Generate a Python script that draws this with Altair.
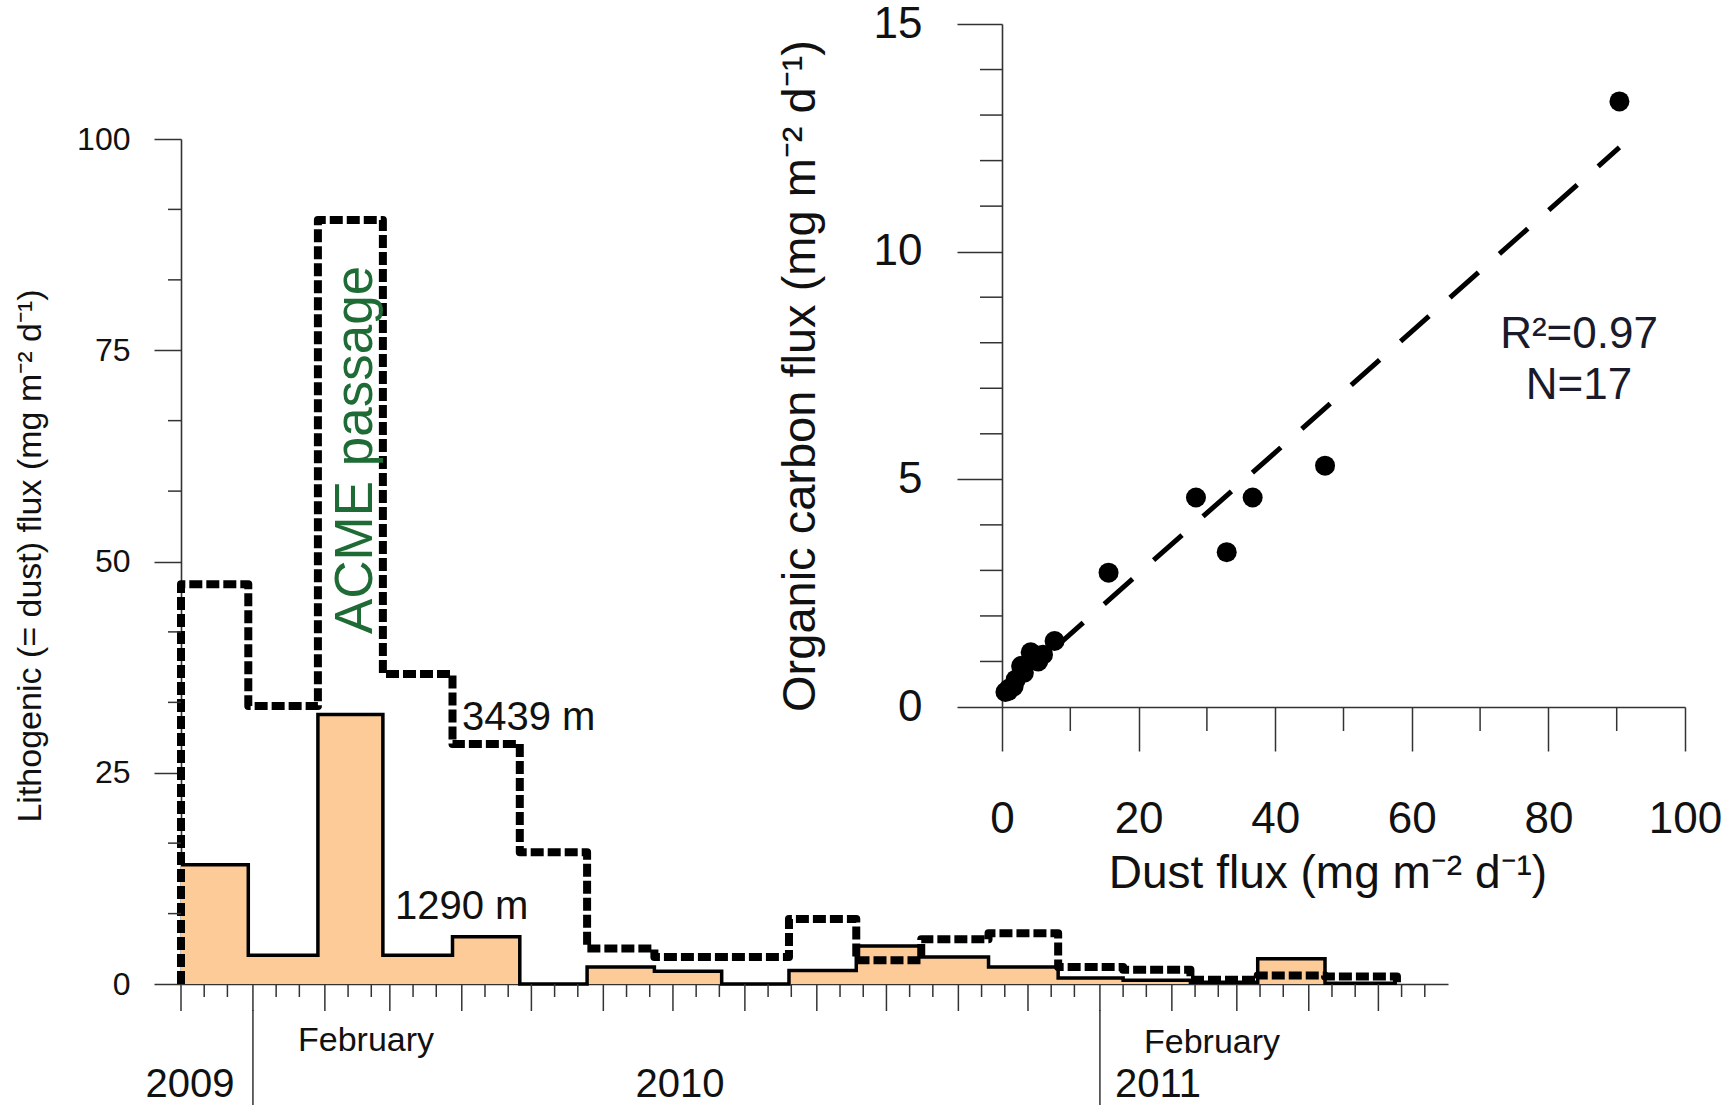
import altair as alt
import pandas as pd

# ---------------- data ----------------
# sediment-trap sampling periods (start dates + final end date)
period_edges = ["2009-12-01", "2009-12-30", "2010-01-29", "2010-02-26", "2010-03-28",
                "2010-04-26", "2010-05-25", "2010-06-23", "2010-07-22", "2010-08-20",
                "2010-09-18", "2010-10-16", "2010-11-14", "2010-12-14", "2011-01-11",
                "2011-02-09", "2011-03-10", "2011-04-08", "2011-05-09"]
# lithogenic (= dust) flux, mg m-2 d-1
flux_1290m = [14.1, 3.4, 31.9, 3.4, 5.6, 0.0, 2.0, 1.5, 0.0, 1.6, 4.5, 3.2, 2.0, 0.7, 0.45, 0.2, 3.0, 0.1]
flux_3439m = [47.3, 32.9, 90.4, 36.7, 28.4, 15.6, 4.2, 3.2, 3.2, 7.7, 2.8, 5.3, 6.0, 2.0, 1.7, 0.5, 1.0, 0.9]

# inset: dust flux vs organic carbon flux (3439 m)
dust_flux = [90.4, 47.3, 36.7, 32.9, 28.4, 15.6, 7.7, 6.0, 5.3, 4.2, 3.2, 2.8, 2.0, 1.7, 1.0, 0.9, 0.5]
oc_flux = [13.3, 5.3, 4.6, 3.4, 4.6, 2.95, 1.45, 1.15, 1.0, 1.2, 0.75, 0.9, 0.6, 0.45, 0.4, 0.35, 0.33]

# time axis ticks
month_ticks = ["2009-12-01", "2010-01-01", "2010-02-01", "2010-03-01", "2010-04-01", "2010-05-01",
               "2010-06-01", "2010-07-01", "2010-08-01", "2010-09-01", "2010-10-01", "2010-11-01",
               "2010-12-01", "2011-01-01", "2011-02-01", "2011-03-01", "2011-04-01", "2011-05-01"]
minor_ticks = [m[:-2] + d for m in month_ticks for d in ("11", "21")]
year_breaks = ["2010-01-01", "2011-01-01"]
axis_start, axis_end = "2009-12-01", "2011-05-31"

left_major_y = [0, 25, 50, 75, 100]
left_minor_y = [8.33, 16.67, 33.33, 41.67, 58.33, 66.67, 83.33, 91.67]
right_major_y = [0, 5, 10, 15]
right_minor_y = [1, 2, 3, 4, 6, 7, 8, 9, 11, 12, 13, 14]
right_major_x = [0, 20, 40, 60, 80, 100]
right_minor_x = [10, 30, 50, 70, 90]

year_labels = ["2009", "2010", "2011"]
month_labels = ["February", "February"]
depth_labels = ["3439 m", "1290 m"]
event_label = "ACME passage"
left_title = "Lithogenic (= dust) flux (mg m\u207b\u00b2 d\u207b\u00b9)"
inset_x_title = "Dust flux (mg m\u207b\u00b2 d\u207b\u00b9)"
inset_y_title = "Organic carbon flux (mg m\u207b\u00b2 d\u207b\u00b9)"
stats_labels = ["R\u00b2=0.97", "N=17"]

# ---------------- helpers ----------------
origin = pd.Timestamp(axis_start)


def day(s):
    return (pd.Timestamp(s) - origin).days


W, H = 1727, 1105
FONT = "Liberation Sans"
AX = "#333333"

edges = [day(s) for s in period_edges]

solid_rows = [{"i": k, "d": edges[k], "v": v} for k, v in enumerate(flux_1290m)]
solid_rows.append({"i": len(flux_1290m), "d": edges[-1], "v": flux_1290m[-1]})
solid_df = pd.DataFrame(solid_rows)

dash_rows = [{"i": 0, "d": edges[0], "v": 0.0}]
dash_rows += [{"i": k + 1, "d": edges[k], "v": v} for k, v in enumerate(flux_3439m)]
dash_rows.append({"i": len(flux_3439m) + 1, "d": edges[-1], "v": flux_3439m[-1]})
dash_rows.append({"i": len(flux_3439m) + 2, "d": edges[-1], "v": 0.0})
dash_df = pd.DataFrame(dash_rows)

scatter_df = pd.DataFrame({"dust": dust_flux, "oc": oc_flux})

# pixel layout of the two panels
xL = alt.Scale(domain=[0, day(axis_end)], range=[181, 1448], nice=False, zero=False)
yL = alt.Scale(domain=[0, 100], range=[984, 139], nice=False, zero=False)
xR = alt.Scale(domain=[0, 100], range=[1002, 1685], nice=False, zero=False)
yR = alt.Scale(domain=[0, 15], range=[707, 24], nice=False, zero=False)

# ---------------- left panel ----------------
area = alt.Chart(solid_df).mark_area(interpolate="step-after", color="#FCCB97", opacity=1).encode(
    x=alt.X("d:Q", scale=xL,
            axis=alt.Axis(orient="bottom", offset=-(H - 984), ticks=False, labels=False,
                          domainColor=AX, domainWidth=1.6, title=None, grid=False)),
    y=alt.Y("v:Q", scale=yL, stack=None,
            axis=alt.Axis(orient="left", offset=-181, values=left_major_y, tickSize=27,
                          tickColor=AX, tickWidth=1.5, domainColor=AX, domainWidth=1.6,
                          labelFont=FONT, labelFontSize=32, labelColor="#111",
                          labelFlush=False, labelPadding=24, title=None, grid=False)),
)

solid_line = alt.Chart(solid_df).mark_line(
    interpolate="step-after", color="black", strokeWidth=3.5, strokeJoin="miter"
).encode(
    x=alt.X("d:Q", scale=xL, axis=None),
    y=alt.Y("v:Q", scale=yL, axis=None),
    order="i:Q",
)

dash_line = alt.Chart(dash_df).mark_line(
    interpolate="step-after", color="black", strokeWidth=8, strokeDash=[13, 4],
    strokeJoin="round"
).encode(
    x=alt.X("d:Q", scale=xL, axis=None),
    y=alt.Y("v:Q", scale=yL, axis=None),
    order="i:Q",
)

major_t = alt.Chart(pd.DataFrame({"d": [day(s) for s in month_ticks]})).mark_rule(
    color=AX, strokeWidth=1.5).encode(
    x=alt.X("d:Q", scale=xL, axis=None), y=alt.value(984), y2=alt.value(1011))
minor_t = alt.Chart(pd.DataFrame({"d": [day(s) for s in minor_ticks]})).mark_rule(
    color=AX, strokeWidth=1.5).encode(
    x=alt.X("d:Q", scale=xL, axis=None), y=alt.value(984), y2=alt.value(997))
year_rules = alt.Chart(pd.DataFrame({"d": [day(s) for s in year_breaks]})).mark_rule(
    color=AX, strokeWidth=1.5).encode(
    x=alt.X("d:Q", scale=xL, axis=None), y=alt.value(1010), y2=alt.value(1105))
left_minor = alt.Chart(pd.DataFrame({"v": left_minor_y})).mark_rule(
    color=AX, strokeWidth=1.5).encode(
    y=alt.Y("v:Q", scale=yL, axis=None), x=alt.value(168), x2=alt.value(181))

# ---------------- inset scatter ----------------
reg = alt.Chart(scatter_df).transform_regression("dust", "oc").mark_line(
    color="black", strokeWidth=5, strokeDash=[38, 28]
).encode(
    x=alt.X("dust:Q", scale=xR, axis=None),
    y=alt.Y("oc:Q", scale=yR, axis=None),
)

pts = alt.Chart(scatter_df).mark_circle(size=400, color="black", opacity=1).encode(
    x=alt.X("dust:Q", scale=xR,
            axis=alt.Axis(orient="bottom", offset=-(H - 707), values=right_major_x, tickSize=44,
                          tickColor=AX, tickWidth=1.5, domainColor=AX, domainWidth=1.6,
                          labelFont=FONT, labelFontSize=44, labelColor="#111",
                          labelFlush=False, labelPadding=46, title=None, grid=False)),
    y=alt.Y("oc:Q", scale=yR,
            axis=alt.Axis(orient="left", offset=-1002, values=right_major_y, tickSize=45,
                          tickColor=AX, tickWidth=1.5, domainColor=AX, domainWidth=1.6,
                          labelFont=FONT, labelFontSize=44, labelColor="#111",
                          labelFlush=False, labelPadding=35, title=None, grid=False)),
)

r_minor_y = alt.Chart(pd.DataFrame({"v": right_minor_y})).mark_rule(
    color=AX, strokeWidth=1.5).encode(
    y=alt.Y("v:Q", scale=yR, axis=None), x=alt.value(980), x2=alt.value(1002))
r_minor_x = alt.Chart(pd.DataFrame({"v": right_minor_x})).mark_rule(
    color=AX, strokeWidth=1.5).encode(
    x=alt.X("v:Q", scale=xR, axis=None), y=alt.value(707), y2=alt.value(731))


# ---------------- text ----------------
def label(txt, x, y, size, align="center", angle=0, color="#111111", font=FONT):
    return alt.Chart(pd.DataFrame({"t": [txt]})).mark_text(
        fontSize=size, font=font, align=align, baseline="alphabetic", angle=angle, color=color
    ).encode(x=alt.value(x), y=alt.value(y), text="t:N")


texts = [
    label(year_labels[0], 190, 1097, 40),
    label(year_labels[1], 680, 1097, 40),
    label(year_labels[2], 1158, 1097, 40),
    label(month_labels[0], 366, 1051, 34),
    label(month_labels[1], 1212, 1053, 34),
    label(depth_labels[0], 462, 730, 40, align="left"),
    label(depth_labels[1], 395, 919, 40, align="left"),
    label(event_label, 372, 450, 53, angle=270, color="#1e6b35"),
    label(left_title, 41, 556, 34, angle=270),
    label(inset_y_title, 815, 376, 47, angle=270),
    label(inset_x_title, 1328, 888, 46),
    label(stats_labels[0], 1579, 348, 44, color="#1a1a2a"),
    label(stats_labels[1], 1579, 399, 44, color="#1a1a2a"),
]

chart = alt.layer(
    area, solid_line, dash_line, major_t, minor_t, year_rules, left_minor,
    reg, pts, r_minor_y, r_minor_x, *texts
).resolve_scale(x="independent", y="independent").properties(
    width=W, height=H, autosize=alt.AutoSizeParams(type="none"), padding=0,
    background="white"
).configure_view(stroke=None)

chart.save("out.html", embed_options={"renderer": "svg", "actions": False})
